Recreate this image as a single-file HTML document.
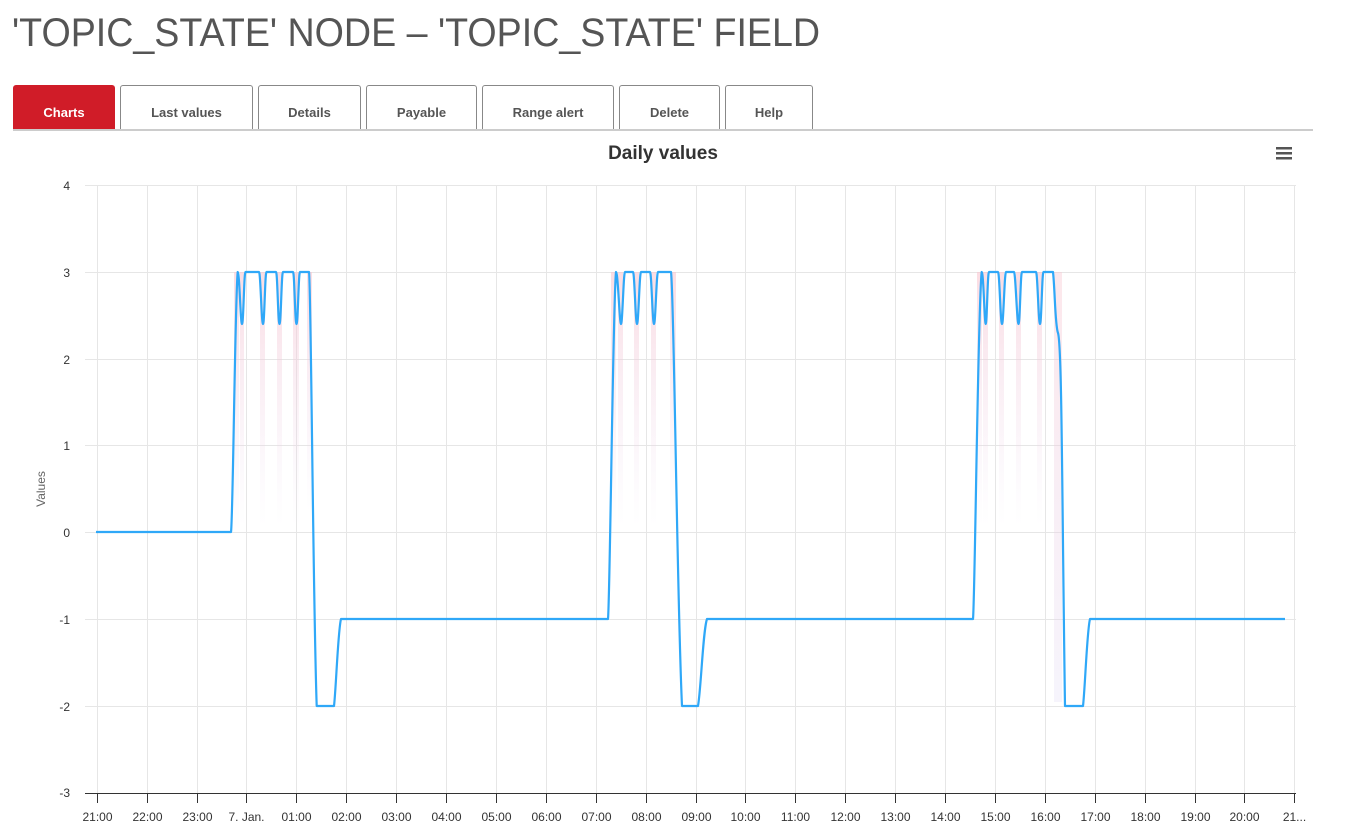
<!DOCTYPE html>
<html><head><meta charset="utf-8"><style>
body{margin:0;width:1351px;height:828px;background:#fff;font-family:"Liberation Sans",sans-serif;overflow:hidden;position:relative}
h1{position:absolute;left:12px;top:11px;margin:0;font-weight:normal;font-size:40px;color:#555;transform:scaleX(0.94);transform-origin:left}
.tab{position:absolute;top:85px;height:44px;border:1px solid #888;border-bottom:none;border-radius:3px 3px 0 0;box-sizing:border-box;text-align:center;line-height:54px;font-size:13px;font-weight:bold;color:#555;background:#fff}
.tab.on{background:#d01c28;color:#fff;border-color:#d01c28}
.line{position:absolute;left:13px;top:129px;width:1300px;height:2px;background:#ccc}
</style></head><body>
<h1>'TOPIC_STATE' NODE – 'TOPIC_STATE' FIELD</h1>
<div class="tab on" style="left:13px;width:102px">Charts</div>
<div class="tab" style="left:120px;width:133px">Last values</div>
<div class="tab" style="left:258px;width:103px">Details</div>
<div class="tab" style="left:366px;width:111px">Payable</div>
<div class="tab" style="left:482px;width:132px">Range alert</div>
<div class="tab" style="left:619px;width:101px">Delete</div>
<div class="tab" style="left:725px;width:88px">Help</div>
<div class="line"></div>
<svg width="1351" height="828" style="position:absolute;left:0;top:0" font-family="Liberation Sans, sans-serif">
<defs><linearGradient id="pg" x1="0" y1="0" x2="0" y2="1"><stop offset="0" stop-color="#f9c6d0" stop-opacity="0.6"/><stop offset="1" stop-color="#e8d8f0" stop-opacity="0"/></linearGradient>
<linearGradient id="pg2" x1="0" y1="0" x2="0" y2="1"><stop offset="0" stop-color="#f9c6d0" stop-opacity="0.6"/><stop offset="1" stop-color="#e0d8f4" stop-opacity="0.4"/></linearGradient></defs>
<text x="663" y="159" text-anchor="middle" font-size="19" font-weight="bold" fill="#333">Daily values</text>
<g fill="#555"><rect x="1276" y="147" width="16" height="2.5"/><rect x="1276" y="152" width="16" height="2.5"/><rect x="1276" y="157" width="16" height="2.5"/></g>
<g stroke="#e6e6e6" stroke-width="1">
<line x1="85" x2="1296" y1="185.5" y2="185.5"/><line x1="85" x2="1296" y1="272.5" y2="272.5"/><line x1="85" x2="1296" y1="359.5" y2="359.5"/><line x1="85" x2="1296" y1="445.5" y2="445.5"/><line x1="85" x2="1296" y1="532.5" y2="532.5"/><line x1="85" x2="1296" y1="619.5" y2="619.5"/><line x1="85" x2="1296" y1="706.5" y2="706.5"/>
</g>
<g id="vg" stroke="#e6e6e6"></g>
<line x1="85" x2="1296" y1="793.5" y2="793.5" stroke="#333"/>
<g font-size="12" fill="#333" text-anchor="end">
<text x="70" y="190">4</text><text x="70" y="277">3</text><text x="70" y="364">2</text><text x="70" y="450">1</text><text x="70" y="537">0</text><text x="70" y="624">-1</text><text x="70" y="711">-2</text><text x="70" y="797">-3</text>
</g>
<text transform="translate(45,489) rotate(-90)" text-anchor="middle" font-size="12" fill="#666">Values</text>
<g id="xt" font-size="12" fill="#333" text-anchor="middle"></g>
<g fill="url(#pg)">
<rect x="234" y="272" width="5" height="260"/><rect x="240" y="272" width="4" height="255"/><rect x="260" y="272" width="5" height="255"/><rect x="277" y="272" width="5" height="255"/><rect x="293" y="272" width="6" height="255"/><rect x="307" y="272" width="5" height="240"/>
<rect x="611" y="272" width="5" height="255"/><rect x="618" y="272" width="5" height="255"/><rect x="634" y="272" width="5" height="255"/><rect x="651" y="272" width="5" height="255"/><rect x="670" y="272" width="6" height="240"/>
<rect x="977" y="272" width="5" height="255"/><rect x="983" y="272" width="5" height="255"/><rect x="999" y="272" width="5" height="255"/><rect x="1016" y="272" width="5" height="255"/><rect x="1037" y="272" width="5" height="255"/>
</g>
<rect x="1054" y="272" width="8" height="430" fill="url(#pg2)" opacity="0.7"/>
<path fill="none" stroke="#2fa8f8" stroke-width="2.2" stroke-linejoin="round" d="
M96,532 L231,532 C233,520 235,300 237.7,272 C239.5,272 240.5,324 242,324 C243.5,324 244,272 245.5,272 L259,272 C260.5,272 261.5,324 263,324 C264.5,324 265,272 266.5,272 L276,272 C277.5,272 278,324 279.5,324 C281,324 281.5,272 283,272 L293,272 C294.5,272 295,324 296.5,324 C298,324 298.5,272 300,272 L309,272 C311,280 313,600 316.7,706 L334,706 C336,690 338,630 341,619
L608,619 C610,600 613,300 616,272 C618,272 619.5,324 621,324 C622.5,324 623.5,272 625,272 L633,272 C634.5,272 635.5,324 637,324 C638.5,324 639.5,272 641,272 L650,272 C651.5,272 652.5,324 654,324 C655.5,324 656.5,272 658,272 L671,272 C674,290 677,600 682,706 L698,706 C701,690 703,630 707,619
L973,619 C975,600 978,300 981.7,272 C983.5,272 984.5,324 985.7,324 C987,324 987.5,272 989,272 L998,272 C999.5,272 1000.5,324 1002,324 C1003.5,324 1004.5,272 1006,272 L1014,272 C1015.5,272 1017,324 1018.5,324 C1020,324 1020.5,272 1022,272 L1036,272 C1037.5,272 1038.5,324 1040,324 C1041.5,324 1042,272 1043.5,272 L1053,272 C1055,290 1055,325 1058,333 C1062,345 1062,500 1065,706 L1083,706 C1085,690 1087,630 1090,619 L1285,619"/>
</svg>
<script>
var vg=document.getElementById('vg'),xt=document.getElementById('xt');
var labs=["21:00","22:00","23:00","7. Jan.","01:00","02:00","03:00","04:00","05:00","06:00","07:00","08:00","09:00","10:00","11:00","12:00","13:00","14:00","15:00","16:00","17:00","18:00","19:00","20:00","21..."];
var ns="http://www.w3.org/2000/svg";
for(var i=0;i<25;i++){var x=Math.round(96.7+i*49.9)+0.5;
var l=document.createElementNS(ns,'line');l.setAttribute('x1',x);l.setAttribute('x2',x);l.setAttribute('y1',185);l.setAttribute('y2',793);vg.appendChild(l);
var t=document.createElementNS(ns,'line');t.setAttribute('x1',x);t.setAttribute('x2',x);t.setAttribute('y1',793);t.setAttribute('y2',803);t.setAttribute('stroke','#333');vg.appendChild(t);
var tx=document.createElementNS(ns,'text');tx.setAttribute('x',x);tx.setAttribute('y',821);tx.textContent=labs[i];xt.appendChild(tx);}
</script>
</body></html>
